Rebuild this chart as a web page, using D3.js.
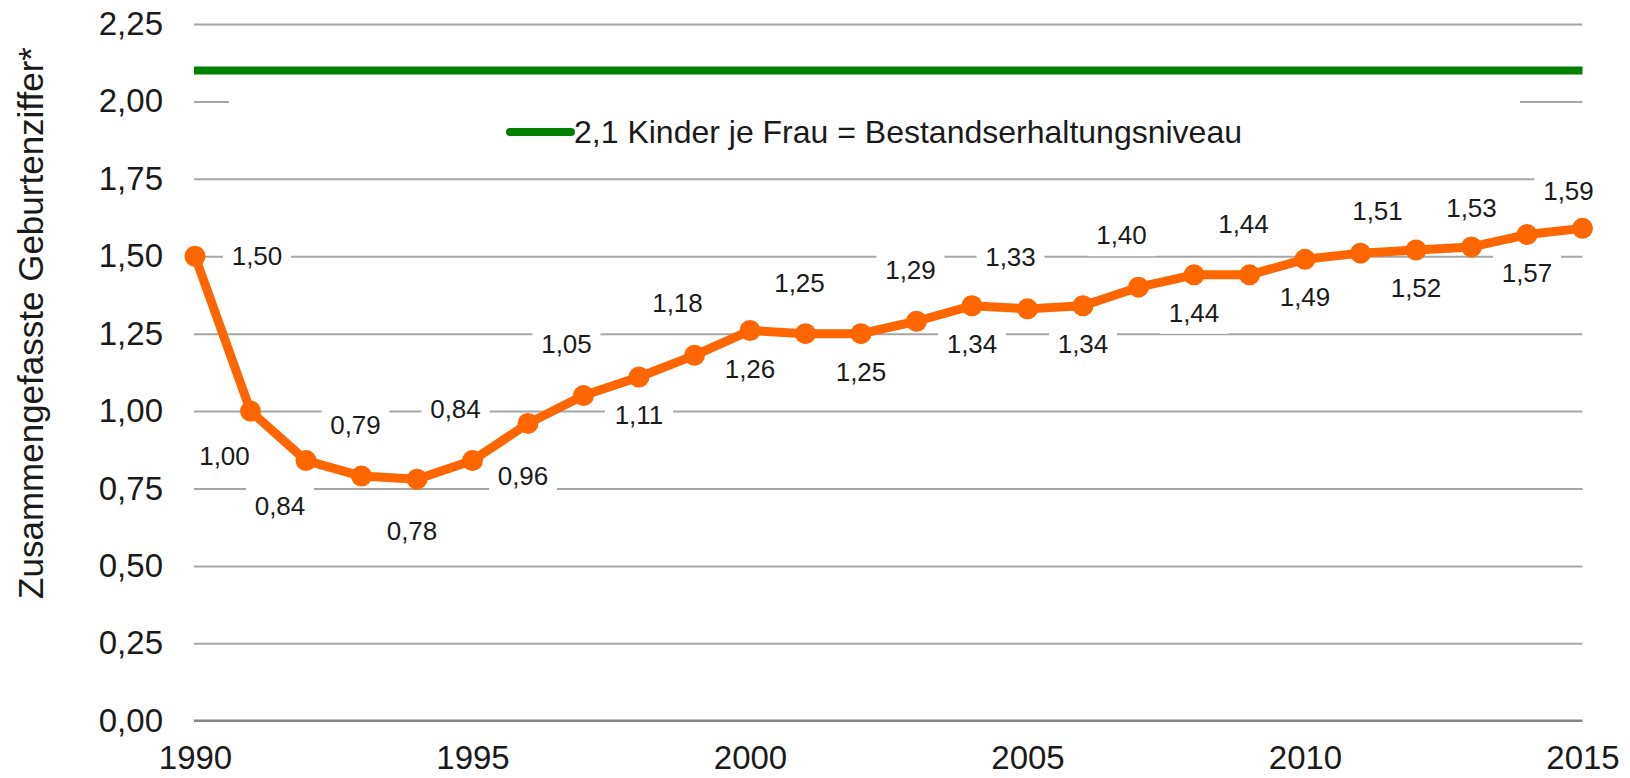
<!DOCTYPE html>
<html>
<head>
<meta charset="utf-8">
<script src="https://cdn.jsdelivr.net/npm/d3@7"></script>
<style>
  body { margin: 0; background: #fff; }
  text { font-family: "Liberation Sans", Arial, sans-serif; fill: #1a1a1a; }
</style>
</head>
<body>
<div id="vis"></div>
<script>
// Data
const years = [1990, 1991, 1992, 1993, 1994, 1995, 1996, 1997, 1998, 1999, 2000, 2001, 2002,
  2003, 2004, 2005, 2006, 2007, 2008, 2009, 2010, 2011, 2012, 2013, 2014, 2015];
const rates = [1.50, 1.00, 0.84, 0.79, 0.78, 0.84, 0.96, 1.05, 1.11, 1.18, 1.26, 1.25, 1.25,
  1.29, 1.34, 1.33, 1.34, 1.40, 1.44, 1.44, 1.49, 1.51, 1.52, 1.53, 1.57, 1.59];
// where each value label sits relative to its point
const labelPlace = ['right', 'belowLeft', 'belowLeft', 'above', 'belowFar', 'aboveLeft', 'belowFar',
  'aboveLeft', 'below', 'aboveLeft', 'below', 'above', 'below', 'above', 'below', 'aboveLeft', 'below',
  'aboveLeft', 'below', 'above', 'below', 'aboveNearRight', 'below', 'aboveNear', 'below', 'aboveNearLeft'];
const replacementLevel = 2.1;
const legendLabel = "2,1 Kinder je Frau = Bestandserhaltungsniveau";
const yTicks = [0, 0.25, 0.5, 0.75, 1.0, 1.25, 1.5, 1.75, 2.0, 2.25];
const xTicks = [1990, 1995, 2000, 2005, 2010, 2015];
const yTitle = "Zusammengefasste Geburtenziffer*";

const W = 1630, H = 778;
const plotLeft = 195, plotRight = 1582.5, plotTop = 24, plotBottom = 720.7;

const de = d3.formatLocale({ decimal: ",", thousands: ".", grouping: [3], currency: ["", " €"] });
const fmt = de.format(".2f");

const orange = "#ff6600";
const green = "#008000";

const placeOffset = {
  right: [62, 0],
  belowLeft: [-26, 45],
  above: [-6, -51],
  aboveLeft: [-17, -52],
  aboveNear: [0, -39],
  aboveNearRight: [17, -42],
  aboveNearLeft: [-14, -37],
  below: [0, 38],
  belowFar: [-5, 52]
};

const svg = d3.select('#vis').append('svg')
  .attr('width', W).attr('height', H);

const x = d3.scaleLinear().domain([1990, 2015]).range([plotLeft, plotRight]);
const y = d3.scaleLinear().domain([0, 2.25]).range([plotBottom, plotTop]);

// gridlines
svg.append('g')
  .attr('transform', `translate(${plotLeft - 1},0)`)
  .call(d3.axisLeft(y).tickValues(yTicks.filter(d => d > 0)).tickSize(-(plotRight - plotLeft + 1)).tickFormat(''))
  .call(g => g.select('.domain').remove())
  .call(g => g.selectAll('line').attr('stroke', '#a6a6a6').attr('stroke-width', 2));

// zero axis line
svg.append('line')
  .attr('x1', plotLeft - 1).attr('x2', plotRight)
  .attr('y1', y(0)).attr('y2', y(0))
  .attr('stroke', '#868686').attr('stroke-width', 2.5);

// y tick labels
svg.append('g')
  .attr('transform', `translate(${plotLeft - 1},0)`)
  .call(d3.axisLeft(y).tickValues(yTicks).tickSize(0).tickPadding(31).tickFormat(fmt))
  .call(g => g.select('.domain').remove())
  .call(g => g.selectAll('text').style('font-size', '33px').attr('fill', '#1a1a1a'));

// x tick labels
svg.append('g')
  .attr('transform', `translate(0,${plotBottom})`)
  .call(d3.axisBottom(x).tickValues(xTicks).tickSize(0).tickPadding(25).tickFormat(d3.format('d')))
  .call(g => g.select('.domain').remove())
  .call(g => g.selectAll('text').style('font-size', '33px').attr('fill', '#1a1a1a'));

// y title
svg.append('text')
  .attr('transform', 'translate(31,323) rotate(-90)')
  .attr('text-anchor', 'middle')
  .attr('dy', '0.35em')
  .style('font-size', '35px')
  .text(yTitle);

// replacement level line
svg.append('line')
  .attr('x1', plotLeft - 1).attr('x2', plotRight)
  .attr('y1', y(replacementLevel)).attr('y2', y(replacementLevel))
  .attr('stroke', green).attr('stroke-width', 8);

// legend (white box hides gridline behind it)
const legend = svg.append('g');
legend.append('rect')
  .attr('x', 229).attr('y', 92).attr('width', 1520 - 229).attr('height', 74)
  .attr('fill', '#fff');
legend.append('line')
  .attr('x1', 510).attr('x2', 571).attr('y1', 132).attr('y2', 132)
  .attr('stroke', green).attr('stroke-width', 8).attr('stroke-linecap', 'round');
legend.append('text')
  .attr('x', 574).attr('y', 132).attr('dy', '0.35em')
  .style('font-size', '32px')
  .text(legendLabel);

const data = years.map((yr, i) => ({ year: yr, value: rates[i], place: labelPlace[i] }));

// label backgrounds
const labels = svg.append('g');
const lblPos = d => {
  const o = placeOffset[d.place];
  return [x(d.year) + o[0], y(d.value) + o[1]];
};
labels.selectAll('rect').data(data).join('rect')
  .attr('x', d => lblPos(d)[0] - 34)
  .attr('y', d => lblPos(d)[1] - 21)
  .attr('width', 68).attr('height', 42)
  .attr('fill', '#fff');

// series line and markers
svg.append('path')
  .datum(data)
  .attr('fill', 'none')
  .attr('stroke', orange)
  .attr('stroke-width', 9)
  .attr('stroke-linejoin', 'round')
  .attr('d', d3.line().x(d => x(d.year)).y(d => y(d.value)));

svg.append('g').selectAll('circle').data(data).join('circle')
  .attr('cx', d => x(d.year))
  .attr('cy', d => y(d.value))
  .attr('r', 10.5)
  .attr('fill', orange);

// value labels
svg.append('g').selectAll('text').data(data).join('text')
  .attr('x', d => lblPos(d)[0])
  .attr('y', d => lblPos(d)[1])
  .attr('dy', '0.35em')
  .attr('text-anchor', 'middle')
  .style('font-size', '26px')
  .text(d => fmt(d.value));
</script>
</body>
</html>
